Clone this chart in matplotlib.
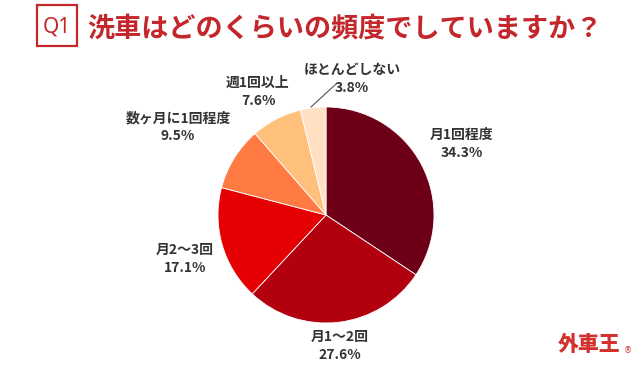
import matplotlib.pyplot as plt
from matplotlib.patches import Rectangle

plt.rcParams['font.family'] = ['Noto Sans CJK JP', 'DejaVu Sans']

labels = ['月1回程度', '月1〜2回', '月2〜3回', '数ヶ月に1回程度', '週1回以上', 'ほとんどしない']
values = [34.3, 27.6, 17.1, 9.5, 7.6, 3.8]
colors = ['#6D0016', '#B3000F', '#E50004', '#FF7B43', '#FFC07C', '#FFE0C2']
# label anchor (pixel coords, y from top)
label_pos = [(462, 144), (340, 346), (185, 259), (178, 127), (258, 92), (352, 79)]

fig = plt.figure(figsize=(6.4, 3.7), dpi=100)
ax = fig.add_axes([0, 0, 1, 1])

ax.pie(values, colors=colors, startangle=90, counterclock=False,
       center=(326, 370 - 215), radius=108,
       wedgeprops=dict(linewidth=0.6, edgecolor='white'))

for lab, v, (px, py) in zip(labels, values, label_pos):
    ax.text(px, 370 - py, f'{lab}\n{v}%', ha='center', va='center',
            fontsize=10, fontweight='bold', color='#333333', linespacing=1.35)

# leader line for the small slice
ax.plot([311, 336], [370 - 107, 370 - 84], color='#555555', lw=0.8)

# title
red = '#C3272B'
ax.add_patch(Rectangle((37, 370 - 46), 40, 41, fill=False, edgecolor=red, lw=1.6))
ax.text(57, 370 - 27, 'Q1', ha='center', va='center', fontsize=15, color=red,
        family='Noto Sans')
ax.text(87, 370 - 28, '洗車はどのくらいの頻度でしていますか？', ha='left', va='center',
        fontsize=19.5, fontweight='bold', color=red)

# logo
ax.text(589, 370 - 345, '外車王', ha='center', va='center', fontsize=15,
        fontweight='black', color='#D2322D')
ax.text(628, 370 - 351, '®', ha='center', va='center', fontsize=6, color='#D2322D',
        family='DejaVu Sans')

ax.set_xlim(0, 640)
ax.set_ylim(0, 370)
ax.set_aspect('auto')
ax.axis('off')

fig.savefig('out.png', dpi=100, facecolor='white')
